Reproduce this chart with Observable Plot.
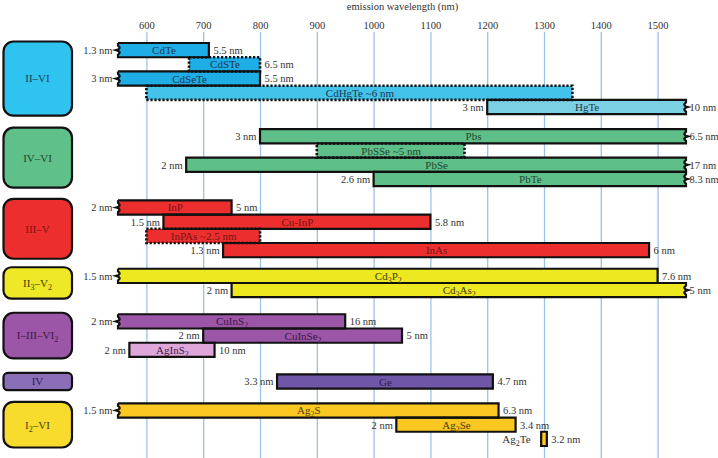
<!DOCTYPE html>
<html><head><meta charset="utf-8">
<script src="https://cdn.jsdelivr.net/npm/d3@7"></script>
<script src="https://cdn.jsdelivr.net/npm/@observablehq/plot@0.6"></script>
<style>body{margin:0;background:#fff;} svg{display:block}</style>
</head><body><div id="chart"></div>
<script>
// ---------- data ----------
const groupNames = ["II–VI", "IV–VI", "III–V", "II₃–V₂", "I–III–VI₂", "IV", "I₂–VI"];
const materials = ["CdTe","CdSTe","CdSeTe","CdHgTe","HgTe","PbS","PbSSe","PbSe","PbTe","InP","Cu-InP","InPAs","InAs","Cd3P2","Cd3As2","CuInS2","CuInSe2","AgInS2","Ge","Ag2S","Ag2Se","Ag2Te"];
const materialGroup = [0,0,0,0,0, 1,1,1,1, 2,2,2,2, 3,3, 4,4,4, 5, 6,6,6];
const starts = [550,675,550,600,1200, 800,900,670,1000, 550,630,600,735, 550,750, 550,700,570, 830, 550,1040,1295];
const ends   = [710,800,800,1350,1550, 1550,1160,1550,1550, 750,1100,800,1485, 1500,1550, 950,1050,720, 1210, 1220,1250,1305];
const inBarLabels = ["CdTe","CdSTe","CdSeTe","CdHgTe ~6 nm","HgTe","Pbs","PbSSe ~5 nm","PbSe","PbTe","InP","Cu-InP","InPAs ~2.5 nm","InAs","Cd₃P₂","Cd₃As₂","CuInS₂","CuInSe₂","AgInS₂","Ge","Ag₂S","Ag₂Se",""];
const leftLabels  = ["1.3 nm","","3 nm","","3 nm", "3 nm","","2 nm","2.6 nm", "2 nm","1.5 nm","","1.3 nm", "1.5 nm","2 nm", "2 nm","2 nm","2 nm", "3.3 nm", "1.5 nm","2 nm","Ag₂Te"];
const rightLabels = ["5.5 nm","6.5 nm","5.5 nm","","10 nm", "6.5 nm","","17 nm","8.3 nm", "5 nm","5.8 nm","","6 nm", "7.6 nm","5 nm", "16 nm","5 nm","10 nm", "4.7 nm", "6.3 nm","3.4 nm","3.2 nm"];
const estimated = [false,true,false,true,false, false,true,false,false, false,false,true,false, false,false, false,false,false, false, false,false,false];
const tickValues = [600,700,800,900,1000,1100,1200,1300,1400,1500];
const xDomain = [550, 1550];

// ---------- layout & styles ----------
const groupGaps = [1.06, 1.0, 0.81, 1.2, 1.23, 1.03]; // extra space (in rows) between consecutive groups
const groupFill = ["#2fc3f0","#5fc08a","#ec2e2e","#eee826","#9b56a7","#8a6fb8","#f7dc2e"];
const groupBarFill = ["#1fade5","#5fbf88","#ec2e2e","#eee820","#9b56a7","#7056a6","#fbc823"];
const barFillOverride = {"CdHgTe":"#44c3ea","HgTe":"#7bd0e4","AgInS2":"#dfa7d9"};
const groupText = ["#1e3852","#24472f","#7a1414","#3f3c05","#3d1745","#2d1d55","#4d3c05"];

// ---------- build ----------
let pos = 0;
const data = materials.map((m, i) => {
  if (i > 0 && materialGroup[i] !== materialGroup[i-1]) pos += groupGaps[materialGroup[i] - 1];
  const d = {
    m, pos, start: starts[i], end: ends[i], inBar: inBarLabels[i], left: leftLabels[i], right: rightLabels[i],
    est: estimated[i], g: materialGroup[i],
    fill: barFillOverride[m] || groupBarFill[materialGroup[i]],
    textFill: groupText[materialGroup[i]]
  };
  pos += 1;
  return d;
});
const yTotal = pos;

function boxesMark(index, scales) {
  const g = d3.create("svg:g");
  groupNames.forEach((name, gi) => {
    const members = data.filter(d => d.g === gi);
    const y1 = scales.y(members[0].pos) - 1.5;
    const y2 = scales.y(members[members.length - 1].pos + 1) + 1.5;
    const h = y2 - y1;
    g.append("rect").attr("x", 3.5).attr("y", y1).attr("width", 68.5).attr("height", h)
      .attr("rx", Math.min(10, h / 4)).attr("fill", groupFill[gi]).attr("stroke", "#111").attr("stroke-width", 2.2);
    g.append("text").attr("x", 37.5).attr("y", (y1 + y2) / 2).attr("dy", "0.35em")
      .attr("text-anchor", "middle").attr("fill", groupText[gi]).attr("font-size", 11).text(name);
  });
  return g.node();
}

function wavy(x, ya, yb, dir) {
  const h = yb - ya;
  const p = t => ya + h * t;
  return `V${p(0.18)}C${x - 2.5*dir},${p(0.3)} ${x - 2.5*dir},${p(0.42)} ${x + 1.8*dir},${p(0.5)}` +
         `C${x - 2.5*dir},${p(0.58)} ${x - 2.5*dir},${p(0.7)} ${x},${p(0.82)}V${yb}`;
}

function outlineMark(index, scales) {
  const g = d3.create("svg:g").attr("fill", "none").attr("stroke", "#111");
  data.forEach(d => {
    const x1 = scales.x(d.start), x2 = scales.x(d.end);
    const y1 = scales.y(d.pos), y2 = scales.y(d.pos + 1);
    let p = `M${x1},${y1}H${x2}`;
    p += d.end === xDomain[1] ? wavy(x2, y1, y2, 1) : `V${y2}`;
    p += `H${x1}`;
    p += d.start === xDomain[0] ? wavy(x1, y2, y1, -1) : `Z`;
    const path = g.append("path").attr("d", p).attr("stroke-linejoin", "miter");
    if (d.est) path.attr("stroke-width", 2.6).attr("stroke-dasharray", "2.2 1.8");
    else path.attr("stroke-width", 2.2);
  });
  return g.node();
}

const mid = d => d.pos + 0.5;
const wavyStart = d => d.start === xDomain[0];
const nameOutside = d => d.inBar === "";
const plot = Plot.plot({
  width: 718, height: 458,
  marginTop: 32, marginBottom: 0, marginLeft: 118, marginRight: 32,
  style: {fontFamily: '"Liberation Serif", "Times New Roman", serif', fontSize: "11px", background: "white", color: "#333"},
  x: {domain: xDomain},
  y: {domain: [0, yTotal], range: [43, 446], axis: null},
  color: {type: "identity"},
  marks: [
    Plot.gridX(tickValues, {stroke: "#9cc2e6", strokeOpacity: 1, strokeWidth: 1.3}),
    Plot.axisX(tickValues, {anchor: "top", tickSize: 0, tickPadding: 4, fontSize: 10.5, fill: "#333", tickFormat: d => String(d),
      label: "emission wavelength (nm)", labelAnchor: "center", labelOffset: 30, labelArrow: false}),
    boxesMark,
    Plot.rectX(data, {x1: "start", x2: "end", y1: "pos", y2: d => d.pos + 1, fill: "fill", inset: 0}),
    outlineMark,
    Plot.text(data, {x: d => (d.start + d.end) / 2, y: mid, text: "inBar", fill: "textFill", fontSize: 11}),
    Plot.text(data.filter(wavyStart), {x: "start", y: mid, text: "left", textAnchor: "end", dx: -6, fill: "#333", fontSize: 10.5}),
    Plot.text(data.filter(d => !wavyStart(d) && !nameOutside(d)), {x: "start", y: mid, text: "left", textAnchor: "end", dx: -4, fill: "#333", fontSize: 10.5}),
    Plot.text(data.filter(nameOutside), {x: "start", y: mid, text: "left", textAnchor: "end", dx: -11, fill: "#333", fontSize: 11}),
    Plot.text(data.filter(d => d.end === xDomain[1]), {x: "end", y: mid, text: "right", textAnchor: "start", dx: 3, fill: "#333", fontSize: 10.5}),
    Plot.text(data.filter(d => d.end !== xDomain[1]), {x: "end", y: mid, text: "right", textAnchor: "start", dx: 4, fill: "#333", fontSize: 10.5})
  ]
});

// subscripts: turn unicode subscript digits into shifted tspans
const subMap = {"₀":"0","₁":"1","₂":"2","₃":"3","₄":"4","₅":"5","₆":"6","₇":"7","₈":"8","₉":"9"};
plot.querySelectorAll("text").forEach(el => {
  if (el.children.length) return;
  const s = el.textContent;
  if (!/[₀-₉]/.test(s)) return;
  el.textContent = "";
  let shifted = false;
  for (const part of s.match(/[₀-₉]+|[^₀-₉]+/g)) {
    const t = document.createElementNS("http://www.w3.org/2000/svg", "tspan");
    if (/[₀-₉]/.test(part)) {
      t.textContent = [...part].map(c => subMap[c]).join("");
      t.setAttribute("font-size", "8px"); t.setAttribute("dy", "3"); shifted = true;
    } else {
      t.textContent = part;
      if (shifted) { t.setAttribute("dy", "-3"); shifted = false; }
    }
    el.appendChild(t);
  }
});
document.getElementById("chart").appendChild(plot);
</script>
</body></html>
